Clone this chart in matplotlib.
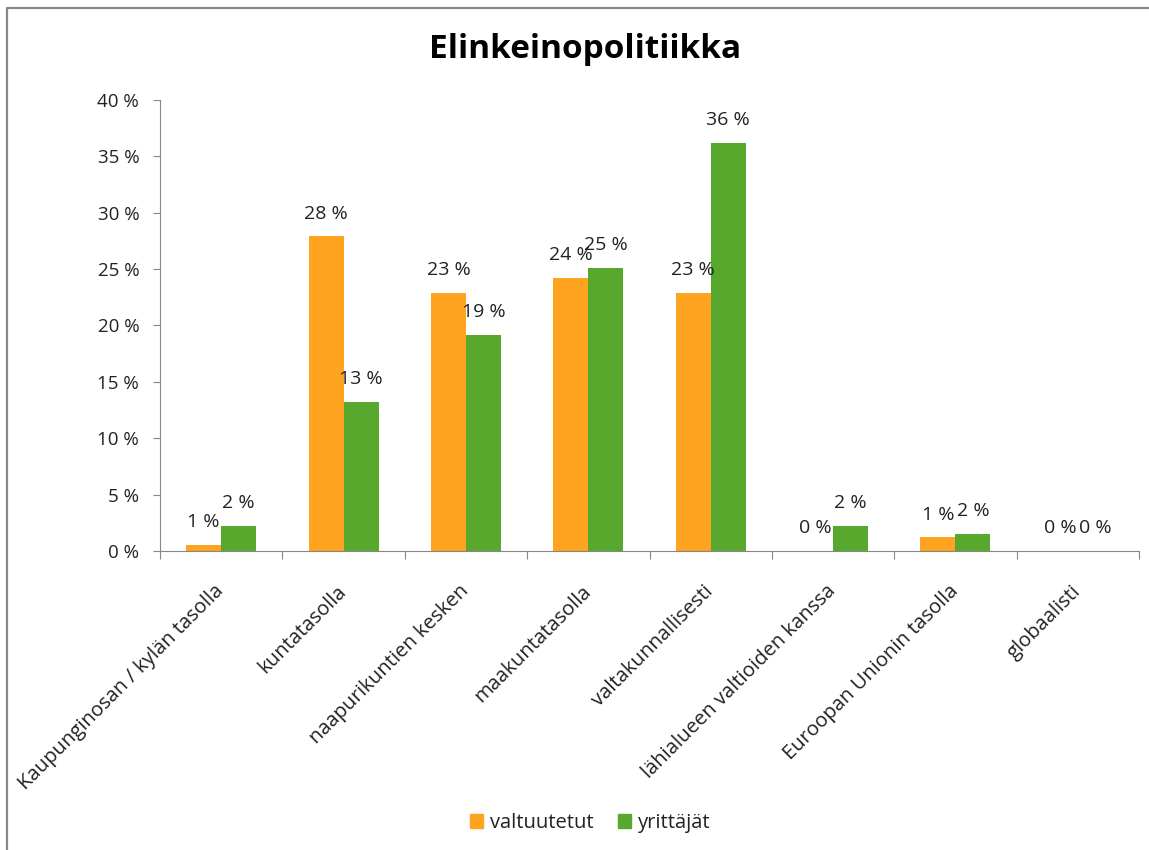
import math
import matplotlib
matplotlib.use("Agg")
import matplotlib.pyplot as plt
import numpy as np
from matplotlib.lines import Line2D
from matplotlib.patches import Patch

# data (percent)
categories = ['Kaupunginosan / kylän tasolla', 'kuntatasolla', 'naapurikuntien kesken',
              'maakuntatasolla', 'valtakunnallisesti', 'lähialueen valtioiden kanssa',
              'Euroopan Unionin tasolla', 'globaalisti']
valtuutetut = [0.5, 27.9, 22.9, 24.2, 22.9, 0.0, 1.2, 0.0]
yrittajat = [2.2, 13.2, 19.2, 25.1, 36.2, 2.2, 1.5, 0.0]
series_names = ['valtuutetut', 'yrittäjät']
yticks = [0, 5, 10, 15, 20, 25, 30, 35, 40]

ORANGE = '#FFA420'
GREEN = '#57A82D'
GREY = '#878787'
TXT = '#222222'

plt.rcParams['font.family'] = ['Open Sans', 'DejaVu Sans']

W, H = 1149, 850
fig = plt.figure(figsize=(W / 100, H / 100), dpi=100)
ax = fig.add_axes([160 / W, 1 - 551 / H, (1139 - 160) / W, (551 - 100) / H])

x = np.arange(len(categories))
bw = 0.286
b1 = ax.bar(x - bw / 2, valtuutetut, bw, color=ORANGE, label=series_names[0])
b2 = ax.bar(x + bw / 2, yrittajat, bw, color=GREEN, label=series_names[1])

# value labels, rounded half up like Excel
def fmt(v):
    return f'{int(math.floor(v + 0.5))} %'

for bars, vals in ((b1, valtuutetut), (b2, yrittajat)):
    for rect, v in zip(bars, vals):
        ax.annotate(fmt(v), (rect.get_x() + rect.get_width() / 2, v),
                    xytext=(0, 16.5), textcoords='offset points',
                    ha='center', va='center', fontsize=14, color=TXT)

ax.set_xlim(-0.5, len(categories) - 0.5)
ax.set_ylim(0, 40)
ax.set_yticks(yticks)
ax.set_yticklabels([f'{t} %' for t in yticks], fontsize=13.5, color=TXT)

# category labels at centres, tick marks at boundaries
ax.set_xticks(x)
ax.set_xticklabels(categories, rotation=45, ha='right', va='center',
                   rotation_mode='anchor', fontsize=14.6, color=TXT)
ax.set_xticks(np.arange(len(categories) + 1) - 0.5, minor=True)
ax.tick_params(axis='x', which='major', length=0, pad=27)
ax.tick_params(axis='x', which='minor', length=6, width=0.8, color=GREY, direction='out')
ax.tick_params(axis='y', length=5, width=0.8, color=GREY, direction='out', pad=10)

for s in ('top', 'right'):
    ax.spines[s].set_visible(False)
for s in ('left', 'bottom'):
    ax.spines[s].set_color(GREY)
    ax.spines[s].set_linewidth(0.8)

fig.text(585 / W, 1 - 49 / H, 'Elinkeinopolitiikka', ha='center', va='center',
         fontsize=24, fontweight='bold', color='black')

handles = [Patch(color=ORANGE), Patch(color=GREEN)]
fig.legend(handles, series_names, loc='center', bbox_to_anchor=(590 / W, 1 - 823 / H),
           ncol=2, frameon=False, fontsize=14.5, handlelength=0.65, handleheight=0.65,
           handletextpad=0.35, columnspacing=1.2, labelcolor=TXT)

# chart area frame (only top and left visible in the reference)
fig.add_artist(Line2D([7 / W, 7 / W, 1.01], [-0.01, 1 - 8 / H, 1 - 8 / H],
                      transform=fig.transFigure, color=GREY, lw=1.6))

fig.savefig('out.png', dpi=100)
